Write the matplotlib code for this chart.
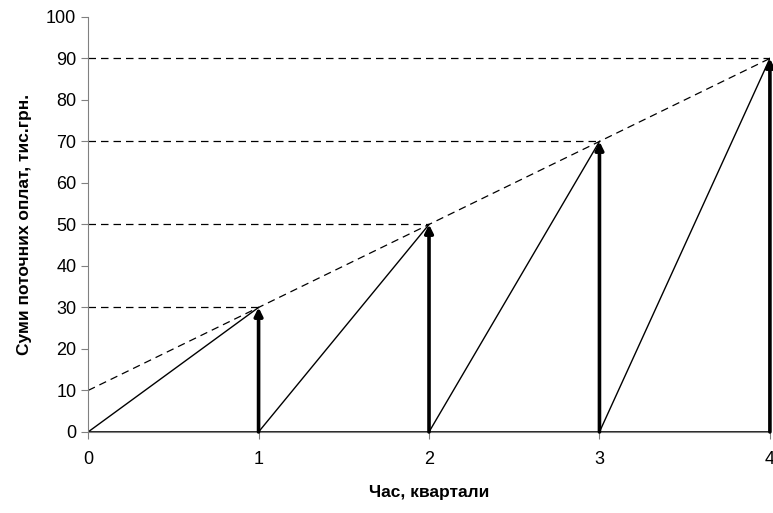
import matplotlib
matplotlib.use("Agg")
import matplotlib.pyplot as plt

plt.rcParams['font.family'] = ['Liberation Sans', 'DejaVu Sans']

kvartaly = [0, 1, 2, 3, 4]
oplaty = [30, 50, 70, 90]          # накопичені суми в кінці кварталів
liniya_start = 10                  # початок пунктирної прямої при t=0
y_ticks = list(range(0, 101, 10))

fig = plt.figure(figsize=(7.73, 5.13), dpi=100)
ax = fig.add_axes([0.114, 0.158, 0.882, 0.809])

# пунктирна пряма та горизонтальні пунктири
ax.plot([kvartaly[0], kvartaly[-1]], [liniya_start, oplaty[-1]], color='black',
        lw=0.9, ls=(0, (6, 4)))
for k, v in zip(kvartaly[1:], oplaty):
    ax.plot([0, k], [v, v], color='black', lw=0.9, ls=(0, (6, 4)))

# похилі лінії та стрілки
for k, v in zip(kvartaly[1:], oplaty):
    ax.plot([k - 1, k], [0, v], color='black', lw=1.0)
    ax.annotate('', xy=(k, v), xytext=(k, 0),
                arrowprops=dict(arrowstyle='-|>', color='black', lw=2.6,
                                mutation_scale=12, shrinkA=0, shrinkB=0))

ax.axhline(0, color='black', lw=1.2, zorder=1)

ax.set_xlim(0, 4)
ax.set_ylim(0, 100)
ax.set_xticks(kvartaly)
ax.set_yticks(y_ticks)
ax.tick_params(colors='#808080', labelcolor='black', labelsize=13, length=5)
ax.tick_params(axis='x', pad=9)
for s in ['top', 'right']:
    ax.spines[s].set_visible(False)
ax.spines['left'].set_color('#808080')
ax.spines['bottom'].set_color('#808080')

ax.set_xlabel('Час, квартали', fontsize=12.5, fontweight='bold', labelpad=12)
ax.set_ylabel('Суми поточних оплат, тис.грн.', fontsize=12.5, fontweight='bold',
              labelpad=10)

fig.savefig('out.png', dpi=100)
